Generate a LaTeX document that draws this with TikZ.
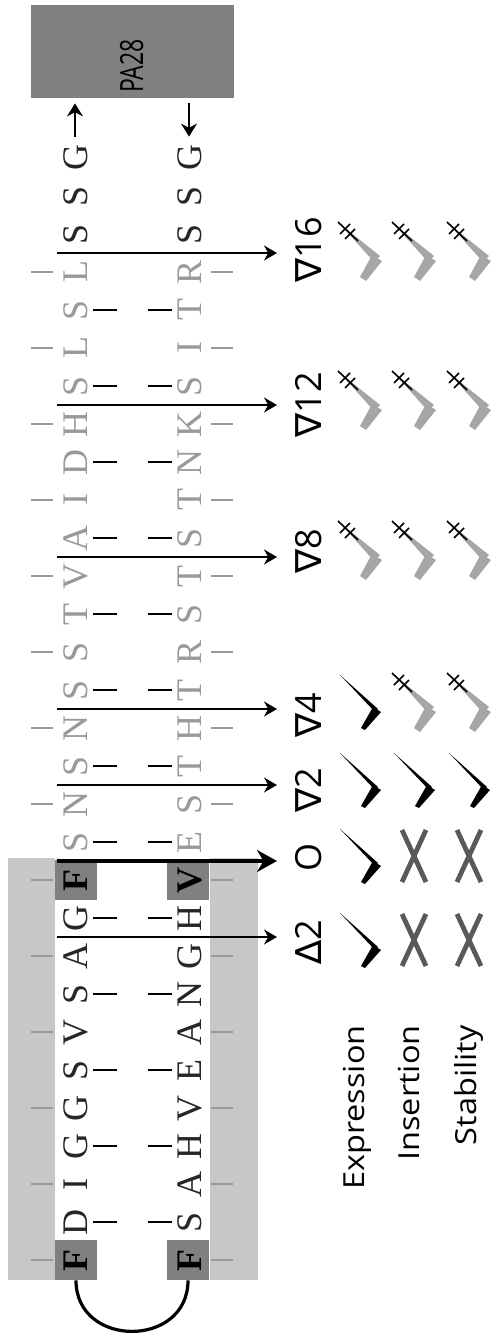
\documentclass[tikz,border=0pt]{standalone}
\usepackage{fontspec}
\setmainfont{Liberation Serif}
\newfontfamily\labfont{Open Sans}
\newfontfamily\symfont{DejaVu Sans}
\usetikzlibrary{arrows.meta}
\tikzset{
  seqbase/.style={rotate=90, inner sep=0pt, text height=12pt, text depth=0pt, font=\fontsize{18}{18}\selectfont},
  seqdark/.style={seqbase, text=black!85},
  seqgrey/.style={seqbase, text=black!40},
  seqbold/.style={seqbase, text=black, font=\fontsize{18}{18}\selectfont\bfseries},
  outtick/.style={draw=black!40, line width=0.7pt},
  intick/.style={draw=black, line width=1.1pt},
  cut/.style={-{Stealth[length=6.5pt,width=7.5pt]}, line width=0.75pt},
  cutmain/.style={-{Stealth[length=10pt,width=11pt]}, line width=1.7pt},
  feed/.style={-{Stealth[length=6.5pt,width=8pt]}, line width=0.75pt},
  lab/.style={rotate=90, anchor=base, inner sep=0pt, font=\labfont\fontsize{18}{18}\selectfont},
  side/.style={rotate=90, anchor=base east, inner sep=0pt, font=\labfont\fontsize{14.5}{14.5}\selectfont},
  hibox/.style={fill=black!50, minimum width=21pt, minimum height=20pt, inner sep=0pt},
  pabox/.style={fill=black!50, minimum width=101.5pt, minimum height=46.5pt, inner sep=0pt},
  okmark/.pic={
    \fill (-20,-27) -- (18,7) -- (15,10) -- cycle;
    \fill (13,5) -- (21,10) -- (5,28) -- (1,26) -- cycle;
  },
  nomark/.pic={
    \fill[black!35] (-20,-27) -- (20,5) -- (14,11) -- cycle;
    \fill[black!35] (12,4) -- (22,10) -- (6,30) -- (0,26) -- cycle;
    \draw[line width=0.8pt] (-22,-29) -- (-2,-10) (-10,-27) -- (-20,-17) (-5,-22) -- (-15,-12);
  },
  xmark/.pic={
    \draw[black!65, line width=2.4pt] (-12,-26) -- (12,26) (12,-26) -- (-12,26);
  }
}
\begin{document}
\begin{tikzpicture}[x=0.5pt,y=-0.5pt]
\useasboundingbox (0,0) rectangle (493,1338);
% shaded region
\fill[black!22] (8,858) rectangle (258,1280);
\fill[white] (55,858) rectangle (210,1280);
\node[hibox] (ht0) at (76,1260) {};
\node[hibox] (hb0) at (188,1260) {};
\node[hibox] (ht10) at (76,880) {};
\node[hibox] (hb10) at (188,880) {};
% PA28 box
\node[pabox] (pa) at (132,51.5) {};
\node[rotate=90, anchor=base, inner sep=0pt, font=\labfont\fontsize{16}{16}\selectfont] (patext) at (143,66) {\scalebox{0.72}[1]{PA28}};
% strands
\foreach \L [count=\i from 0] in {F,D,I,G,G,S,V,S,A,G,F,S,N,S,N,S,S,T,V,A,I,D,H,S,L,S,L,S,S,G}{
  \pgfmathsetmacro\yy{1260-38*\i}
  \def\sty{seqdark}
  \ifnum\i>10 \ifnum\i<27 \def\sty{seqgrey}\fi\fi
  \ifnum\i=0 \def\sty{seqbold}\fi
  \ifnum\i=10 \def\sty{seqbold}\fi
  \node[\sty] (t\i) at (75,\yy) {\L};
}
\foreach \L [count=\i from 0] in {F,S,A,H,V,E,A,N,G,H,V,E,S,T,H,T,R,S,T,S,T,N,K,S,I,T,R,S,S,G}{
  \pgfmathsetmacro\yy{1260-38*\i}
  \def\sty{seqdark}
  \ifnum\i>10 \ifnum\i<27 \def\sty{seqgrey}\fi\fi
  \ifnum\i=0 \def\sty{seqbold}\fi
  \ifnum\i=10 \def\sty{seqbold}\fi
  \node[\sty] (b\i) at (189,\yy) {\L};
}
% outward ticks (even) and pairing dashes (odd)
\foreach \i in {0,2,...,26}{
  \pgfmathsetmacro\yy{1260-38*\i}
  \draw[outtick] (31,\yy) -- (53,\yy);
  \draw[outtick] (211,\yy) -- (233,\yy);
}
\foreach \i in {1,3,...,25}{
  \pgfmathsetmacro\yy{1260-38*\i}
  \draw[intick] (93,\yy) -- (117,\yy);
  \draw[intick] (148,\yy) -- (172,\yy);
}
% loop connecting the two F residues
\draw[line width=1.6pt] (ht0.south) .. controls +(0,68) and +(0,68) .. (hb0.south);
% links to PA28
\draw[feed, shorten <=4pt, shorten >=2.5pt] (t29.east) -- (t29.east |- pa.south);
\draw[feed, shorten <=2.5pt, shorten >=4pt] (pa.south -| b29.center) -- (b29.east);
% cut positions, labels and results
\foreach \lab/\ya/\yl/\ys/\ma/\mb/\mc/\st [count=\k] in {
 {{\symfont ∆}2}/937/942/940/okmark/xmark/xmark/cut,
 O/861/857/856/okmark/xmark/xmark/cutmain,
 {{\symfont ∇}2}/785/790/780/okmark/okmark/okmark/cut,
 {{\symfont ∇}4}/709/715/702/okmark/nomark/nomark/cut,
 {{\symfont ∇}8}/557/551/550/nomark/nomark/nomark/cut,
 {{\symfont ∇}12}/405/405/400/nomark/nomark/nomark/cut,
 {{\symfont ∇}16}/253/250/251/nomark/nomark/nomark/cut}{
  \coordinate (cs\k) at (57,\ya);
  \coordinate (ce\k) at (277,\ya);
  \draw[\st] (cs\k) -- (ce\k);
  \node[lab] (lab\k) at (321,\yl) {\lab};
  \pic at (360,\ys) {\ma};
  \pic at (414,\ys) {\mb};
  \pic at (469,\ys) {\mc};
}
% row titles
\node[side] (expr) at (364,1025) {\scalebox{1.12}[1]{Expression}};
\node[side] (ins) at (419,1025) {\scalebox{1.12}[1]{Insertion}};
\node[side] (stab) at (476,1025) {\scalebox{1.12}[1]{Stability}};
\end{tikzpicture}
\end{document}
